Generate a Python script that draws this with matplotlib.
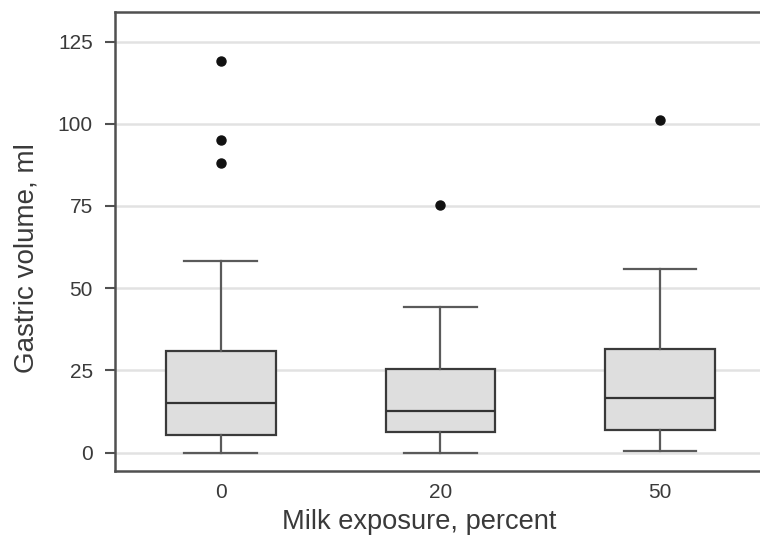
import matplotlib
matplotlib.use("Agg")
import matplotlib.pyplot as plt

# Data (box-plot summary statistics, ml)
groups = ["0", "20", "50"]
whisker_low = [0.0, 0.0, 0.4]
q1 = [5.4, 6.2, 7.0]
median = [15.0, 12.6, 16.6]
q3 = [30.9, 25.5, 31.6]
whisker_high = [58.3, 44.4, 55.8]
outliers = [[119.2, 95.1, 88.2], [75.3], [101.1]]
yticks = [0, 25, 50, 75, 100, 125]

plt.rcParams['font.family'] = ['Liberation Sans', 'DejaVu Sans']

fig = plt.figure(figsize=(7.6, 5.38), dpi=100)
ax = fig.add_axes([0.1513, 0.1251, 0.849, 0.8526])

stats = []
for i, g in enumerate(groups):
    stats.append(dict(label=g, whislo=whisker_low[i], q1=q1[i], med=median[i],
                      q3=q3[i], whishi=whisker_high[i], fliers=outliers[i]))

positions = list(range(1, len(groups) + 1))
ax.bxp(stats, positions=positions, widths=0.5, patch_artist=True,
       showfliers=True,
       boxprops=dict(facecolor='#dedede', edgecolor='#3a3a3a', linewidth=1.6),
       medianprops=dict(color='#333333', linewidth=1.6),
       whiskerprops=dict(color='#5a5a5a', linewidth=1.6),
       capprops=dict(color='#5a5a5a', linewidth=1.6),
       capwidths=0.33,
       flierprops=dict(marker='o', markerfacecolor='#111111',
                       markeredgecolor='#111111', markersize=6.5))

ax.set_xlim(0.519, 3.455)
ax.set_ylim(-5.5, 134.0)
ax.set_yticks(yticks)
ax.set_yticklabels([str(t) for t in yticks])
ax.set_xticks(positions)
ax.set_xticklabels(groups)

ax.grid(axis='y', color='#e2e2e2', linewidth=1.8, zorder=0)
ax.set_axisbelow(True)

for side in ['left', 'top', 'bottom']:
    ax.spines[side].set_color('#505050')
    ax.spines[side].set_linewidth(1.8)
ax.spines['right'].set_visible(False)

ax.tick_params(axis='y', length=7, width=1.5, color='#505050', pad=9,
               labelsize=15, labelcolor='#3a3a3a')
ax.tick_params(axis='x', length=0, pad=9, labelsize=15, labelcolor='#3a3a3a')

ax.set_xlabel("Milk exposure, percent", fontsize=19.6, color='#3a3a3a')
ax.set_ylabel("Gastric volume, ml", fontsize=20, color='#3a3a3a')
ax.xaxis.set_label_coords(0.472, -0.083)
ax.yaxis.set_label_coords(-0.117, 0.464)

fig.savefig("out.png", dpi=100)
